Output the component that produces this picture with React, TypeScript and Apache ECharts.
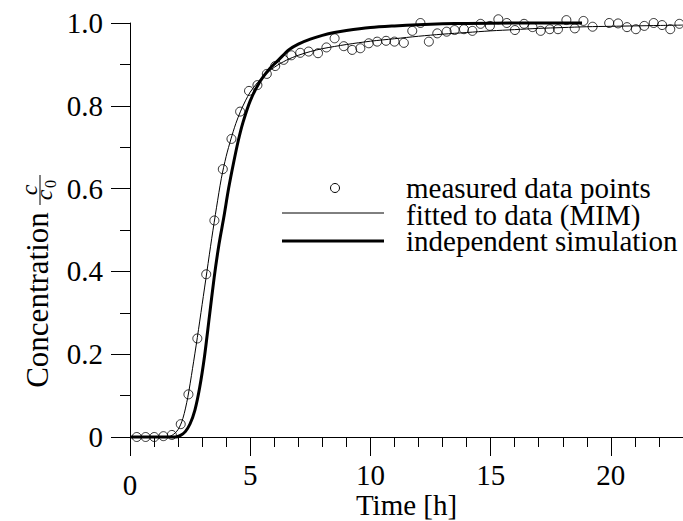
import React, { useEffect, useRef } from "react";
import * as echarts from "echarts";

// Measured data points (time [h], C/C0)
const measuredTime = [
  0.28, 0.65, 1.01, 1.39, 1.74, 2.11, 2.43, 2.8, 3.17, 3.51, 3.86, 4.22, 4.58, 4.95, 5.3, 5.69,
  6.04, 6.39, 6.71, 7.08, 7.43, 7.82, 8.17, 8.51, 8.89, 9.24, 9.58, 9.93, 10.28, 10.65, 11.0,
  11.39, 11.74, 12.08, 12.43, 12.78, 13.17, 13.5, 13.89, 14.24, 14.58, 14.97, 15.32, 15.67,
  16.01, 16.39, 16.74, 17.08, 17.46, 17.8, 18.15, 18.5, 18.86, 19.24, 19.93, 20.3, 20.67,
  21.04, 21.39, 21.78, 22.13, 22.47, 22.85,
];
const measuredConc = [
  0.0, 0.0, 0.0, 0.002, 0.005, 0.031, 0.103, 0.238, 0.393, 0.523, 0.647, 0.72, 0.786, 0.836,
  0.85, 0.877, 0.896, 0.911, 0.922, 0.928, 0.931, 0.927, 0.941, 0.963, 0.944, 0.935, 0.939,
  0.951, 0.955, 0.957, 0.955, 0.952, 0.981, 1.0, 0.955, 0.975, 0.979, 0.983, 0.985, 0.981,
  0.998, 0.993, 1.009, 1.0, 0.983, 0.998, 0.99, 0.981, 0.985, 0.985, 1.007, 0.987, 1.005,
  0.991, 1.0, 0.999, 0.99, 0.985, 0.993, 1.0, 0.995, 0.985, 0.998,
];

// Fitted curve (MIM)
const fittedTime = [
  0, 1.5, 1.75, 2.0, 2.2, 2.4, 2.6, 2.8, 3.0, 3.2, 3.4, 3.6, 3.8, 4.0, 4.2, 4.4, 4.6, 4.8, 5.0,
  5.3, 5.6, 6.0, 6.5, 7.0, 7.5, 8.0, 9.0, 10.0, 11.0, 12.0, 13.0, 14.0, 15.0, 16.0, 17.0, 18.0,
  19.0, 20.0, 21.0, 22.0, 23.0,
];
const fittedConc = [
  0, 0, 0.004, 0.018, 0.045, 0.095, 0.165, 0.24, 0.32, 0.4, 0.48, 0.555, 0.625, 0.678, 0.72,
  0.757, 0.787, 0.812, 0.833, 0.856, 0.874, 0.893, 0.91, 0.922, 0.931, 0.938, 0.948, 0.956,
  0.962, 0.968, 0.973, 0.977, 0.981, 0.984, 0.987, 0.989, 0.991, 0.992, 0.993, 0.994, 0.995,
];

// Independent simulation
const simTime = [
  0, 1.9, 2.1, 2.3, 2.5, 2.7, 2.9, 3.1, 3.3, 3.5, 3.7, 3.9, 4.1, 4.3, 4.5, 4.7, 5.0, 5.4, 5.8,
  6.2, 6.6, 7.0, 7.5, 8.0, 8.5, 9.0, 10.0, 11.0, 12.0, 13.0, 14.0, 16.0, 18.8,
];
const simConc = [
  0, 0, 0.004, 0.013, 0.032, 0.065, 0.12, 0.195, 0.29, 0.385, 0.465, 0.53, 0.6, 0.66, 0.715,
  0.76, 0.812, 0.858, 0.889, 0.912, 0.935, 0.949, 0.961, 0.97, 0.977, 0.982, 0.989, 0.993,
  0.996, 0.998, 0.999, 1.0, 1.0,
];

const xMajorTicks = [0, 5, 10, 15, 20];
const xMinorTicks = [0, 1, 2, 3, 4, 5, 6, 7, 8, 9, 10, 11, 12, 13, 14, 15, 16, 17, 18, 19, 20, 21, 22];

const legendNames = ["measured data points", "fitted to data (MIM)", "independent simulation"];
const xTitle = "Time [h]";
const yTitle = "Concentration";

const FONT = "Liberation Serif";
const FS = 29;

export default function App() {
  const ref = useRef<HTMLDivElement>(null);

  useEffect(() => {
    const chart = echarts.init(ref.current!, null, { renderer: "svg" });
    const zip = (a: number[], b: number[]) => a.map((v, i) => [v, b[i]]);
    const txt = { color: "#000", fontFamily: FONT, fontSize: FS };

    chart.setOption({
      animation: false,
      backgroundColor: "#fff",
      grid: { left: 130, right: 0, top: 23, bottom: 84, containLabel: false, outerBoundsMode: "none" },
      xAxis: [
        {
          type: "value",
          min: 0,
          max: 23,
          interval: 5,
          position: "bottom",
          axisLine: { show: true, lineStyle: { color: "#000", width: 1 } },
          axisTick: { show: true, inside: false, length: 19, lineStyle: { color: "#000" }, customValues: xMajorTicks },
          axisLabel: {
            ...txt,
            margin: 23,
            customValues: xMajorTicks,
            formatter: (v: number) => (v === 0 ? "{z|0}" : String(v)),
            rich: { z: { ...txt, lineHeight: 50 } },
          },
          splitLine: { show: false },
          name: xTitle,
          nameLocation: "middle",
          nameGap: 53,
          nameMoveOverlap: false,
          nameTextStyle: txt,
        },
        {
          type: "value",
          min: 0,
          max: 23,
          interval: 1,
          position: "bottom",
          axisLine: { show: false },
          axisTick: { show: true, inside: false, length: 10, lineStyle: { color: "#000" }, customValues: xMinorTicks },
          axisLabel: { show: false },
          splitLine: { show: false },
        },
      ],
      yAxis: {
        type: "value",
        min: 0,
        max: 1,
        interval: 0.2,
        axisLine: { show: true, lineStyle: { color: "#000", width: 1 } },
        axisTick: { show: true, inside: false, length: 19, lineStyle: { color: "#000" } },
        minorTick: { show: true, splitNumber: 2, length: 10, lineStyle: { color: "#000" } },
        axisLabel: {
          ...txt,
          margin: 27,
          formatter: (v: number) => (v === 0 ? "0" : v.toFixed(1)),
        },
        splitLine: { show: false },
        minorSplitLine: { show: false },
      },
      series: [
        {
          name: legendNames[1],
          type: "line",
          data: zip(fittedTime, fittedConc),
          showSymbol: false,
          smooth: 0.3,
          clip: false,
          lineStyle: { color: "#000", width: 1 },
          z: 2,
        },
        {
          name: legendNames[2],
          type: "line",
          data: zip(simTime, simConc),
          showSymbol: false,
          smooth: 0.3,
          clip: false,
          lineStyle: { color: "#000", width: 3 },
          z: 3,
        },
        {
          name: legendNames[0],
          type: "scatter",
          data: zip(measuredTime, measuredConc),
          symbol: "circle",
          symbolSize: 9,
          clip: false,
          itemStyle: { color: "rgba(0,0,0,0)", borderColor: "#000", borderWidth: 1 },
          z: 4,
        },
      ],
      graphic: [
        // y-axis title
        {
          type: "text",
          x: 37,
          y: 300,
          rotation: Math.PI / 2,
          style: { text: yTitle, fontFamily: FONT, fontSize: 31, align: "center", verticalAlign: "middle", fill: "#000" },
        },
        {
          type: "group",
          x: 40,
          y: 190,
          rotation: Math.PI / 2,
          children: [
            {
              type: "text",
              x: 0,
              y: -11,
              style: { text: "c", fontFamily: FONT, fontSize: 24, fontStyle: "italic", fill: "#000", align: "center", verticalAlign: "middle" },
            },
            { type: "line", shape: { x1: -15, y1: 0, x2: 15, y2: 0 }, style: { stroke: "#000", lineWidth: 1 } },
            {
              type: "text",
              x: -5,
              y: 4,
              style: { text: "c", fontFamily: FONT, fontSize: 24, fontStyle: "italic", fill: "#000", align: "center", verticalAlign: "middle" },
            },
            {
              type: "text",
              x: 6,
              y: 10,
              style: { text: "0", fontFamily: FONT, fontSize: 16, fill: "#000", align: "center", verticalAlign: "middle" },
            },
          ],
        },
        // legend
        { type: "circle", shape: { cx: 335, cy: 188, r: 4.5 }, style: { fill: "none", stroke: "#000", lineWidth: 1 } },
        { type: "line", shape: { x1: 282, y1: 213, x2: 384, y2: 213 }, style: { stroke: "#000", lineWidth: 1 } },
        { type: "line", shape: { x1: 282, y1: 241, x2: 384, y2: 241 }, style: { stroke: "#000", lineWidth: 3 } },
        {
          type: "text",
          x: 406,
          y: 214.5,
          style: {
            text: legendNames.join("\n"),
            fontFamily: FONT,
            fontSize: FS,
            lineHeight: 26.5,
            fill: "#000",
            verticalAlign: "middle",
          },
        },
      ],
    });

    return () => chart.dispose();
  }, []);

  return (
    <div
      ref={ref}
      style={{ position: "fixed", left: 0, top: 0, width: 683, height: 521, background: "#fff" }}
    />
  );
}
